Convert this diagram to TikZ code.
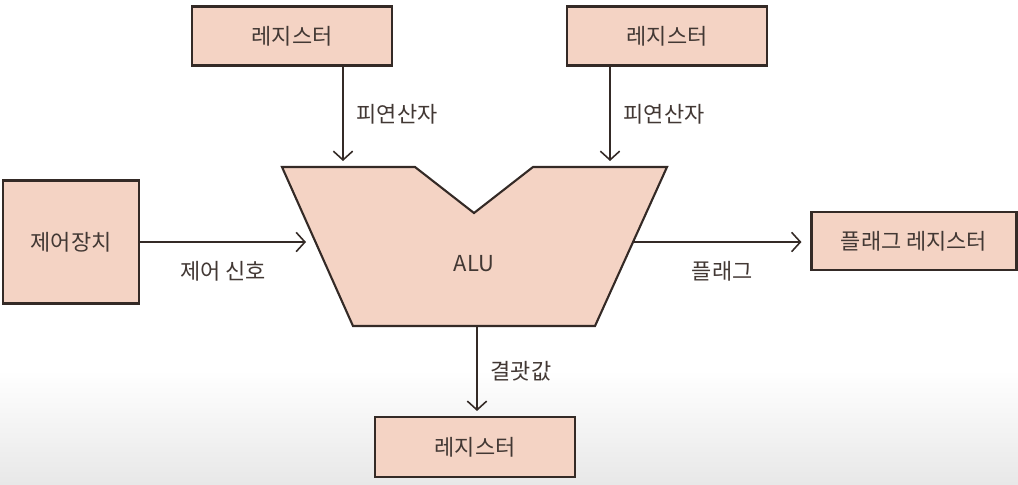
\documentclass[tikz,border=0pt]{standalone}
\usepackage{fontspec}
\setmainfont{Noto Sans CJK KR}
\usepackage{xcolor}
\usepackage{tikz}
\usetikzlibrary{positioning, arrows.meta}
\usetikzlibrary{calc}

\definecolor{boxfill}{RGB}{244,211,196}
\definecolor{edgeclr}{RGB}{52,42,38}
\definecolor{textclr}{RGB}{66,56,52}

\begin{document}
\begin{tikzpicture}[
        x=0.02cm, y=-0.02cm,
        font=\fontsize{12.5}{15}\selectfont,
        register/.style={rectangle, minimum width=4cm, minimum height=1.18cm, text centered, draw=edgeclr, fill=boxfill, line width=1.2pt, text=textclr},
        alushape/.style={draw=edgeclr, fill=boxfill, line width=1.2pt, line join=miter},
        arrow/.style={line width=0.9pt, draw=edgeclr, -{Straight Barb[length=5pt, width=11pt]}},
        tag/.style={text=textclr}
    ]

        % ===== 배경 =====
        \useasboundingbox (0,0) rectangle (1018,484);
        \shade [top color=white, bottom color=black!9] (0,370) rectangle (1018,484);

        % ===== ALU =====
        \draw [alushape] (282,167) -- (415,167) -- (474,213) -- (533,167) -- (667,167) -- (595,326) -- (353,326) -- cycle;
        \node (alu) [tag] at (474,264) {ALU};
        \coordinate (opA) at (343,161);
        \coordinate (opB) at (610,161);
        \coordinate (ctrlIn) at (306,242);
        \coordinate (flagOut) at (634,242);
        \coordinate (resOut) at (477,326);

        % ===== 레지스터 / 장치 =====
        \node (regA) [register] at (292,36) {레지스터};
        \node (regB) [register] at (667,36) {레지스터};
        \node (control) [register, minimum width=2.72cm, minimum height=2.46cm] at (71,242) {제어장치};
        \node (flagReg) [register, minimum width=4.1cm, minimum height=1.16cm] at (914,241) {플래그 레지스터};
        \node (regC) [register, minimum height=1.2cm] at (475,447) {레지스터};

        % ===== 화살표 =====
        \draw [arrow] (opA |- regA.south) -- (opA) node[midway, right=4pt, tag] {피연산자};
        \draw [arrow] (opB |- regB.south) -- (opB) node[midway, right=4pt, tag] {피연산자};
        \draw [arrow] (control.east |- ctrlIn) -- (ctrlIn) node[midway, below=7pt, tag] {제어 신호};
        \draw [arrow, shorten >=9*0.02cm] (flagOut) -- (flagOut -| flagReg.west) node[midway, below=7pt, tag] {플래그};
        \draw [arrow, shorten >=5*0.02cm] (resOut) -- (resOut |- regC.north) node[midway, right=4pt, tag] {결괏값};

    \end{tikzpicture}
\end{document}
